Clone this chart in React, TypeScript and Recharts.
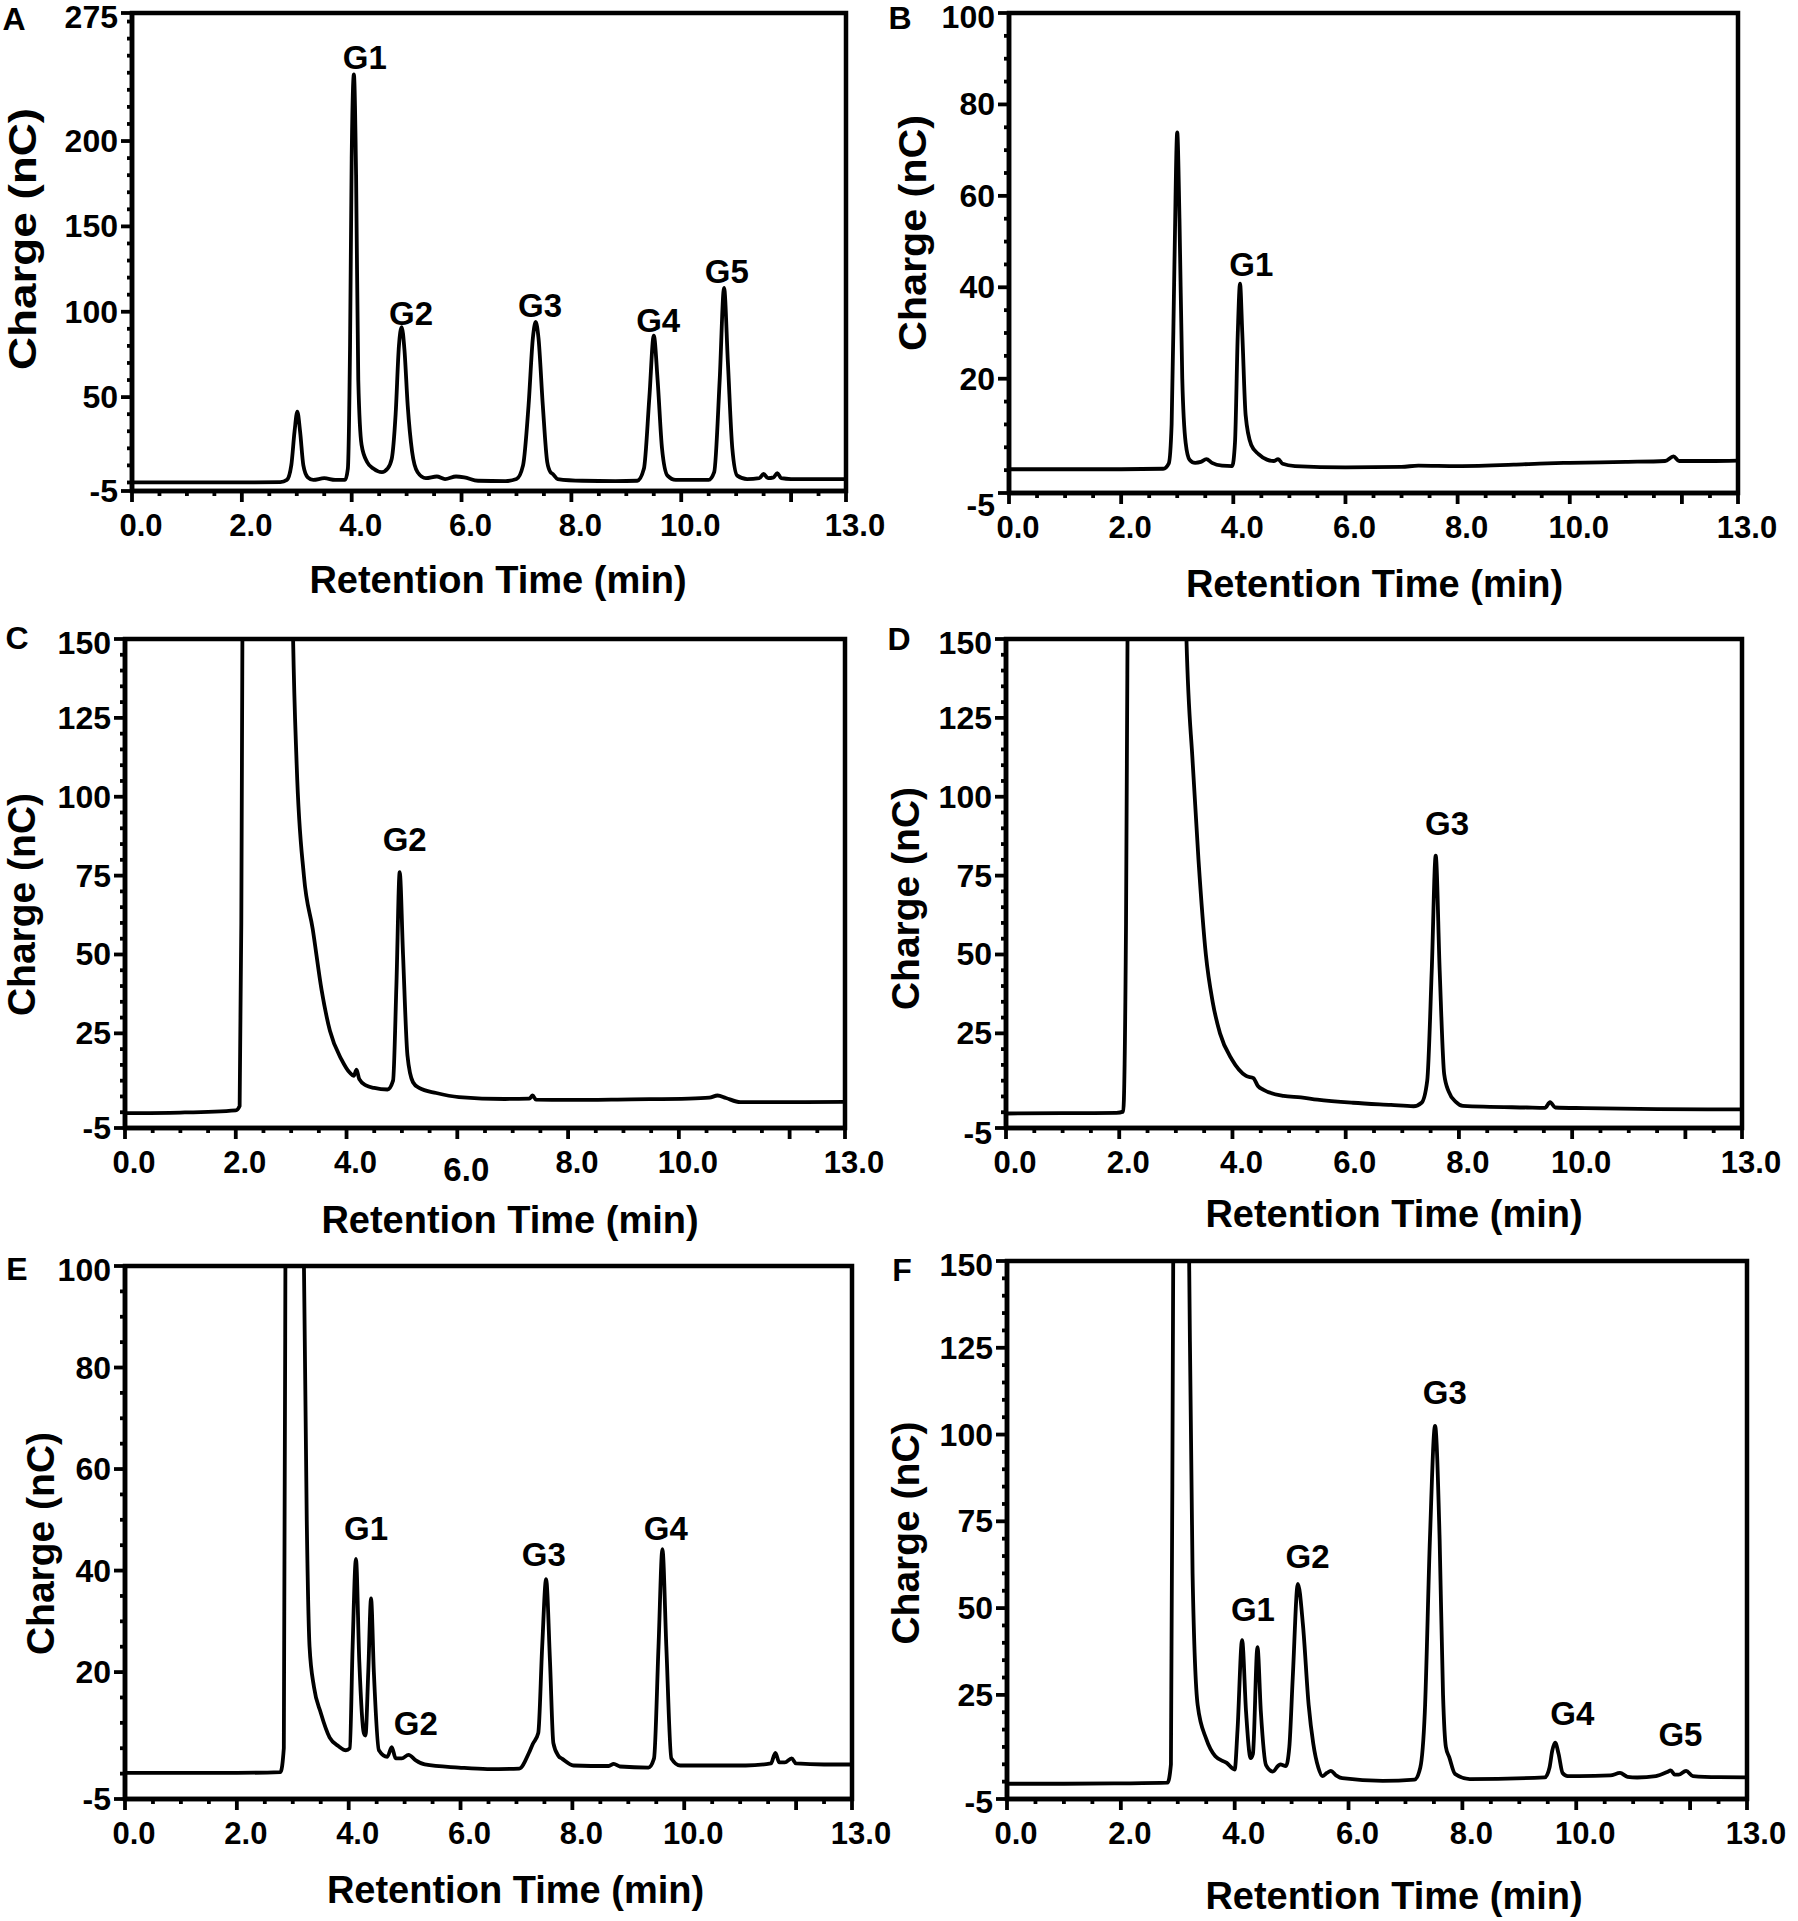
import React from 'react'
import { LineChart, Line, XAxis, YAxis, ReferenceDot, ReferenceArea } from 'recharts'

// chromatogram traces: retention time (min) and charge (nC)
const aTime = [0, 1, 2, 2.7, 2.82, 2.9, 2.96, 3.01, 3.06, 3.12, 3.2, 3.3, 3.5, 3.7, 3.88, 3.93, 3.97, 4.0, 4.04, 4.08, 4.12, 4.18, 4.28, 4.4, 4.55, 4.65, 4.73, 4.8, 4.86, 4.91, 4.96, 5.02, 5.1, 5.2, 5.35, 5.55, 5.7, 5.9, 6.05, 6.3, 6.8, 7.0, 7.12, 7.22, 7.3, 7.35, 7.4, 7.48, 7.56, 7.62, 7.66, 7.75, 8.2, 8.8, 9.2, 9.32, 9.42, 9.5, 9.57, 9.65, 9.75, 9.9, 10.5, 10.6, 10.7, 10.78, 10.85, 10.93, 11.02, 11.2, 11.42, 11.5, 11.58, 11.68, 11.75, 11.82, 12, 12.5, 13]
const aCharge = [0, 0, 0, 0.2, 1.5, 10, 30, 41.5, 30, 10, 3, 1.5, 2.5, 1.5, 1.5, 8, 80, 190, 239, 180, 60, 22, 12, 8, 6, 8, 14, 40, 80, 91, 78, 45, 18, 6, 2.5, 3.5, 2, 3.5, 3, 1, 0.8, 2, 10, 45, 85, 94, 85, 45, 12, 6, 5, 2, 1, 0.8, 1, 8, 50, 86, 60, 20, 4, 1.5, 1.5, 6, 60, 114, 70, 20, 4, 2, 2.5, 5, 2.5, 3, 5.5, 2.5, 2, 2, 2]

const bTime = [0, 2, 2.75, 2.85, 2.9, 2.95, 3.0, 3.04, 3.09, 3.15, 3.22, 3.32, 3.42, 3.52, 3.62, 3.8, 3.98, 4.03, 4.08, 4.12, 4.16, 4.22, 4.32, 4.45, 4.6, 4.72, 4.8, 4.88, 5.1, 6, 7, 7.3, 8, 9, 9.6, 10, 11, 11.7, 11.85, 11.95, 12.5, 13]
const bCharge = [0.2, 0.2, 0.3, 1.5, 10, 45, 73.9, 55, 20, 6, 2.3, 1.6, 1.8, 2.4, 1.6, 1.0, 0.9, 6, 30, 40.8, 30, 12, 5.5, 3.5, 2.3, 2.0, 2.4, 1.4, 0.9, 0.6, 0.7, 1.0, 0.9, 1.2, 1.5, 1.6, 1.8, 2.0, 3.0, 2.0, 2.0, 2.1]

const cTime = [0, 1, 2, 2.07, 2.1, 2.13, 2.2, 2.9, 3.03, 3.1, 3.23, 3.39, 3.55, 3.7, 3.91, 4.06, 4.13, 4.18, 4.23, 4.35, 4.5, 4.74, 4.84, 4.9, 4.96, 5.02, 5.1, 5.2, 5.31, 5.62, 6.03, 6.86, 7.3, 7.36, 7.42, 8, 9.14, 10.18, 10.55, 10.7, 10.85, 11.11, 12, 13]
const cCharge = [-0.3, -0.1, 0.6, 2, 60, 200, 400, 400, 155, 110, 75, 58, 38.7, 25.8, 16.7, 12.5, 11.5, 13.5, 10.5, 8.5, 7.7, 7.2, 10, 40, 76.1, 50, 18, 9.5, 7.7, 6.1, 4.8, 4.2, 4.3, 5.3, 4.0, 3.9, 4.1, 4.3, 4.6, 5.3, 4.5, 3.2, 3.2, 3.3]

const dTime = [0, 1, 1.95, 2.07, 2.12, 2.16, 2.25, 3.05, 3.18, 3.3, 3.4, 3.53, 3.65, 3.78, 3.99, 4.24, 4.37, 4.45, 4.55, 4.9, 5.21, 5.5, 6.13, 6.8, 7.2, 7.34, 7.44, 7.52, 7.59, 7.66, 7.74, 7.82, 7.95, 8.07, 9.2, 9.52, 9.61, 9.7, 10.22, 11.5, 13]
const dCharge = [-0.4, -0.3, -0.2, 0.2, 60, 200, 400, 400, 155, 110, 80, 50, 35, 25, 16.7, 11.5, 10.8, 8.3, 7.1, 5.2, 4.7, 4.0, 3.0, 2.3, 1.9, 3, 10, 45, 81.3, 45, 12, 6.5, 3.2, 2.0, 1.5, 1.4, 3.2, 1.5, 1.3, 1.0, 0.9]

const eTime = [0, 2, 2.78, 2.84, 2.88, 2.95, 3.1, 3.19, 3.25, 3.3, 3.38, 3.5, 3.66, 3.82, 3.95, 4.02, 4.07, 4.13, 4.19, 4.27, 4.3, 4.35, 4.4, 4.45, 4.54, 4.69, 4.77, 4.84, 4.95, 5.07, 5.2, 5.36, 5.97, 6.48, 7.05, 7.22, 7.29, 7.39, 7.46, 7.53, 7.6, 7.66, 7.75, 7.82, 8.02, 8.65, 8.74, 8.85, 9.36, 9.46, 9.54, 9.61, 9.68, 9.77, 9.93, 11.1, 11.55, 11.63, 11.7, 11.8, 11.92, 12, 12.5, 13]
const eCharge = [0.15, 0.15, 0.3, 5, 150, 300, 300, 110, 50, 25, 17, 12, 7.1, 5.4, 4.6, 5, 25, 42.3, 22, 8, 7.5, 20, 34.5, 20, 4.6, 3.3, 5.2, 3.0, 3.0, 3.7, 2.6, 1.8, 1.2, 0.9, 1.0, 4, 5.8, 8, 25, 38.3, 22, 6, 3.5, 2.9, 1.6, 1.5, 1.9, 1.4, 1.2, 3, 25, 44.2, 25, 3, 1.6, 1.6, 2, 4.1, 2.2, 2.2, 3.0, 2.0, 1.8, 1.8]

const fTime = [0, 1, 2, 2.82, 2.88, 2.92, 3.0, 3.12, 3.2, 3.26, 3.35, 3.5, 3.66, 3.86, 4.0, 4.05, 4.13, 4.2, 4.28, 4.32, 4.4, 4.46, 4.55, 4.67, 4.76, 4.8, 4.9, 4.96, 5.02, 5.11, 5.2, 5.3, 5.38, 5.47, 5.54, 5.62, 5.69, 5.78, 5.89, 6.6, 7.16, 7.26, 7.34, 7.43, 7.52, 7.6, 7.66, 7.71, 7.77, 7.87, 8.13, 9.45, 9.53, 9.58, 9.63, 9.69, 9.76, 9.85, 10.05, 10.6, 10.77, 10.9, 11.07, 11.4, 11.6, 11.66, 11.73, 11.8, 11.93, 12.05, 12.5, 13]
const fCharge = [-0.6, -0.6, -0.5, -0.3, 5, 150, 300, 300, 150, 60, 22, 12.3, 7.3, 5.4, 3.5, 15, 40.8, 20, 6.8, 8, 38.75, 20, 4.75, 2.9, 4.5, 5, 4.5, 10, 30, 57, 45, 22, 11, 4, 1.6, 2.5, 3.1, 1.8, 1.0, 0.25, 0.6, 4, 20, 70, 102.5, 70, 25, 10, 7, 2.25, 0.75, 1.25, 4, 9, 11.25, 8, 2.5, 1.6, 1.6, 1.8, 2.5, 1.4, 1.2, 1.6, 2.8, 3.25, 2.0, 2.0, 3.1, 1.6, 1.3, 1.25]

// peak annotations: name, time of the text centre, charge of the text centre
const aPeakNames = ['G1', 'G2', 'G3', 'G4', 'G5']
const aPeakTimes = [4.24, 5.08, 7.43, 9.58, 10.83]
const aPeakLevels = [249, 99, 104, 95, 123.5]
const bPeakNames = ['G1']
const bPeakTimes = [4.32]
const bPeakLevels = [45]
const cPeakNames = ['G2']
const cPeakTimes = [5.05]
const cPeakLevels = [86.5]
const dPeakNames = ['G3']
const dPeakTimes = [7.79]
const dPeakLevels = [91.6]
const ePeakNames = ['G1', 'G2', 'G3', 'G4']
const ePeakTimes = [4.31, 5.2, 7.49, 9.67]
const ePeakLevels = [48.4, 10.0, 43.3, 48.4]
const fPeakNames = ['G1', 'G2', 'G3', 'G4', 'G5']
const fPeakTimes = [4.32, 5.28, 7.69, 9.93, 11.83]
const fPeakLevels = [49.75, 65, 112.25, 19.75, 13.75]

// axis ticks
const xTicks = [0, 0.5, 1, 1.5, 2, 2.5, 3, 3.5, 4, 4.5, 5, 5.5, 6, 6.5, 7, 7.5, 8, 8.5, 9, 9.5, 10, 10.5, 11, 11.5, 12, 12.5, 13]
const xLabelled = [0, 2, 4, 6, 8, 10, 13]
const xMajor = [0, 2, 4, 6, 8, 10, 12, 13]
const yTicks275 = [-5, 0, 10, 20, 30, 40, 50, 60, 70, 80, 90, 100, 110, 120, 130, 140, 150, 160, 170, 180, 190, 200, 210, 220, 230, 240, 250, 260, 270, 275]
const yMajor275 = [-5, 50, 100, 150, 200, 275]
const yTicks100 = [-5, 0, 5, 10, 15, 20, 25, 30, 35, 40, 45, 50, 55, 60, 65, 70, 75, 80, 85, 90, 95, 100]
const yMajor100 = [-5, 20, 40, 60, 80, 100]
const yTicks150 = [-5, 0, 5, 10, 15, 20, 25, 30, 35, 40, 45, 50, 55, 60, 65, 70, 75, 80, 85, 90, 95, 100, 105, 110, 115, 120, 125, 130, 135, 140, 145, 150]
const yMajor150 = [-5, 25, 50, 75, 100, 125, 150]

const FONT = '"Liberation Sans", Arial, sans-serif'
const Y_W = 60
const X_H = 100

const XTick = (props: any) => {
  const { x, y, payload, dropped } = props
  const v = payload.value
  const major = xMajor.includes(v)
  const low = v === dropped
  return (
    <g>
      <line x1={x} x2={x} y1={y} y2={y + (major ? 11 : 5)} stroke="#000" strokeWidth={3.8} />
      {xLabelled.includes(v) && (
        <text x={x + 9} y={y + 34 + (low ? 7 : 0)} textAnchor="middle" dominantBaseline="central"
          fontSize={low ? 33 : 31} fontWeight="bold" fontFamily={FONT} fill="#000">
          {v.toFixed(1)}
        </text>
      )}
    </g>
  )
}

const YTick = (props: any) => {
  const { x, y, payload, majors, minusDy, top } = props
  const v = payload.value
  const major = majors.includes(v)
  // GraphPad puts the -5 and top labels a little off their ticks
  const dy = v === -5 ? minusDy : v === top ? 4 : 0
  return (
    <g>
      <line x1={x} x2={x - (major ? 11 : 5)} y1={y} y2={y} stroke="#000" strokeWidth={3.8} />
      {major && (
        <text x={x - 14} y={y + dy} textAnchor="end" dominantBaseline="central"
          fontSize={32} fontWeight="bold" fontFamily={FONT} fill="#000">
          {v}
        </text>
      )}
    </g>
  )
}

const panels = [
  { letter: 'A', letterX: 14, letterY: 19, box: [0, 0, 880, 620], plot: [132, 846, 13, 491], time: aTime, charge: aCharge, yMax: 275, yTicks: yTicks275, yMajor: yMajor275, names: aPeakNames, peakT: aPeakTimes, peakV: aPeakLevels, yt: [110, -13, 262], xt: [9, 89], minusDy: 0, dropped: null },
  { letter: 'B', letterX: 900, letterY: 18, box: [880, 0, 918, 620], plot: [1009, 1738, 13, 493], time: bTime, charge: bCharge, yMax: 100, yTicks: yTicks100, yMajor: yMajor100, names: bPeakNames, peakT: bPeakTimes, peakV: bPeakLevels, yt: [97, -20, 236], xt: [1, 91], minusDy: 12, dropped: null },
  { letter: 'C', letterX: 17, letterY: 638, box: [0, 620, 880, 630], plot: [125, 845, 639, 1128], time: cTime, charge: cCharge, yMax: 150, yTicks: yTicks150, yMajor: yMajor150, names: cPeakNames, peakT: cPeakTimes, peakV: cPeakLevels, yt: [104, 21, 0], xt: [25, 92], minusDy: 0, dropped: 6 },
  { letter: 'D', letterX: 899, letterY: 639, box: [880, 620, 918, 630], plot: [1006, 1742, 639, 1128], time: dTime, charge: dCharge, yMax: 150, yTicks: yTicks150, yMajor: yMajor150, names: dPeakNames, peakT: dPeakTimes, peakV: dPeakLevels, yt: [101, 15, 0], xt: [20, 86], minusDy: 5, dropped: null },
  { letter: 'E', letterX: 17, letterY: 1269, box: [0, 1250, 880, 671], plot: [125, 852, 1266, 1799], time: eTime, charge: eCharge, yMax: 100, yTicks: yTicks100, yMajor: yMajor100, names: ePeakNames, peakT: ePeakTimes, peakV: ePeakLevels, yt: [85, 11, 0], xt: [27, 91], minusDy: 0, dropped: null },
  { letter: 'F', letterX: 902, letterY: 1270, box: [880, 1250, 918, 671], plot: [1007, 1747, 1261, 1799], time: fTime, charge: fCharge, yMax: 150, yTicks: yTicks150, yMajor: yMajor150, names: fPeakNames, peakT: fPeakTimes, peakV: fPeakLevels, yt: [102, 3, 0], xt: [17, 97], minusDy: 3, dropped: null }
]

const Panel = ({ p }: { p: any }) => {
  const [bx, by, bw, bh] = p.box
  const [pl, pr, pt, pb] = p.plot
  const data = p.time.map((t: number, i: number) => ({ t, v: p.charge[i] }))
  const margin = {
    top: pt - by,
    left: pl - bx - Y_W,
    right: bx + bw - pr,
    bottom: by + bh - pb - X_H
  }

  const xTitle = (lp: any) => {
    const vb = lp.viewBox
    return (
      <text x={vb.x + vb.width / 2 + p.xt[0]} y={vb.y + p.xt[1]} textAnchor="middle"
        dominantBaseline="central" fontSize={38} fontWeight="bold" fontFamily={FONT} fill="#000">
        Retention Time (min)
      </text>
    )
  }
  const yTitle = (lp: any) => {
    const vb = lp.viewBox
    const cx = vb.x + vb.width - p.yt[0]
    const cy = vb.y + vb.height / 2 + p.yt[1]
    const stretch = p.yt[2] ? { textLength: p.yt[2], lengthAdjust: 'spacingAndGlyphs' } : {}
    return (
      <text x={cx} y={cy} transform={`rotate(-90 ${cx} ${cy})`} textAnchor="middle"
        dominantBaseline="central" fontSize={39} fontWeight="bold" fontFamily={FONT} fill="#000" {...stretch}>
        Charge (nC)
      </text>
    )
  }

  return (
    <div style={{ position: 'absolute', left: bx, top: by }}>
      <LineChart width={bw} height={bh} data={data} margin={margin}>
        <XAxis dataKey="t" type="number" domain={[0, 13]} ticks={xTicks} interval={0}
          allowDataOverflow tick={<XTick dropped={p.dropped} />} tickLine={false} tickSize={0} tickMargin={0}
          axisLine={{ stroke: '#000', strokeWidth: 4.5 }} height={X_H}
          label={{ content: xTitle }} />
        <YAxis type="number" domain={[-5, p.yMax]} ticks={p.yTicks} interval={0}
          allowDataOverflow tick={<YTick majors={p.yMajor} minusDy={p.minusDy} top={p.yMax} />} tickLine={false} tickSize={0}
          tickMargin={0} axisLine={{ stroke: '#000', strokeWidth: 4.5 }} width={Y_W}
          label={{ content: yTitle }} />
        <ReferenceArea x1={0} x2={13} y1={-5} y2={p.yMax} fill="none" stroke="#000" strokeWidth={4.5} />
        <Line dataKey="v" type="monotone" stroke="#000" strokeWidth={3.8} dot={false}
          strokeLinejoin="round" isAnimationActive={false} />
        {p.names.map((name: string, i: number) => (
          <ReferenceDot key={name + i} x={p.peakT[i]} y={p.peakV[i]} r={1} fill="none" stroke="none"
            label={{ value: name, position: 'center', fontSize: 33, fontWeight: 'bold', fill: '#000', fontFamily: FONT }} />
        ))}
      </LineChart>
      <div style={{ position: 'absolute', left: p.letterX - bx, top: p.letterY - by, transform: 'translate(-50%, -50%)', fontFamily: FONT, fontWeight: 'bold', fontSize: 32, lineHeight: 1 }}>
        {p.letter}
      </div>
    </div>
  )
}

export default function App() {
  return (
    <div style={{ position: 'absolute', left: 0, top: 0, width: 1798, height: 1921, background: '#fff', fontFamily: FONT }}>
      <style>{'.recharts-surface { overflow: visible; }'}</style>
      {panels.map((p) => <Panel key={p.letter} p={p} />)}
    </div>
  )
}
